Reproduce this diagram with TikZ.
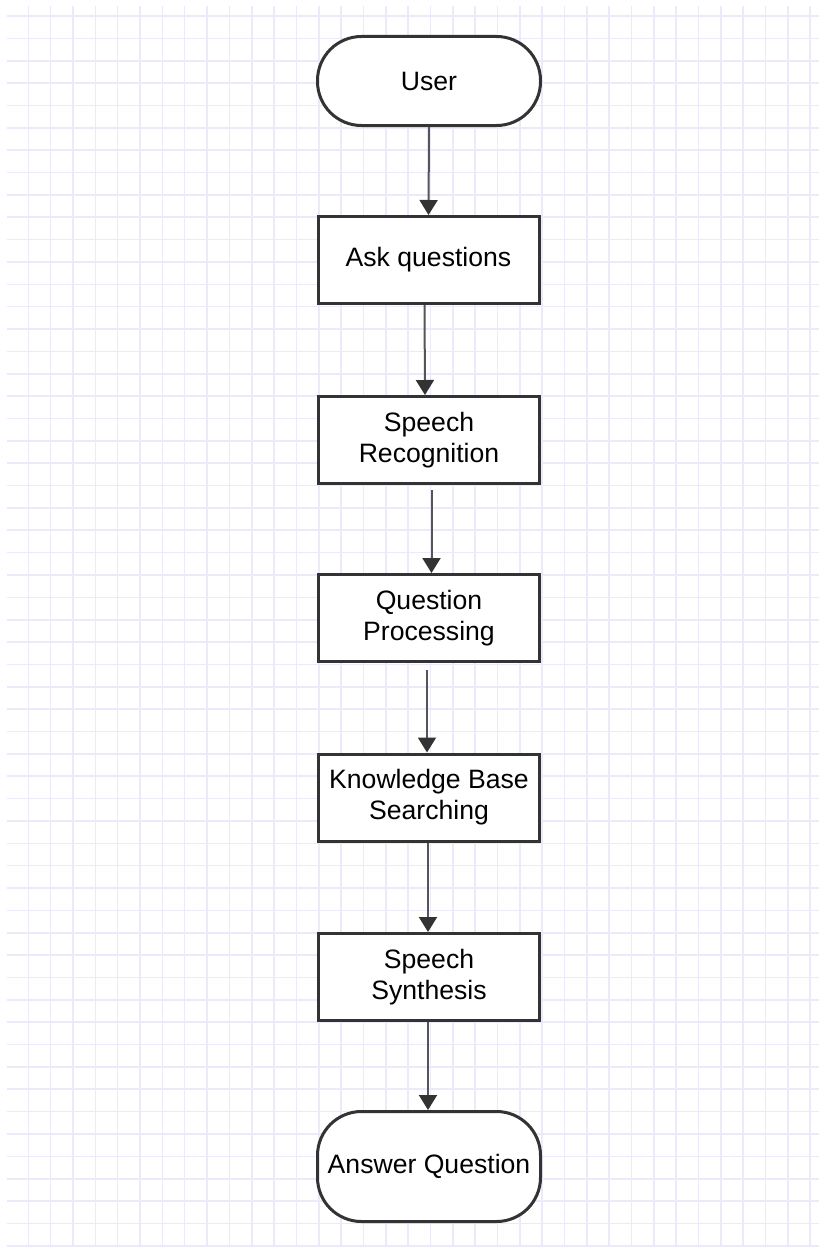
\documentclass[tikz,border=0pt]{standalone}
\usepackage{fontspec}
\setsansfont{Liberation Sans}
\usetikzlibrary{arrows.meta}
\definecolor{gridblue}{RGB}{234,234,250}
\definecolor{edgegray}{RGB}{51,51,51}
\definecolor{flowgray}{RGB}{85,85,85}
\begin{document}
\begin{tikzpicture}[
      x=1pt, y=-1pt,
      font=\sffamily\fontsize{26.6pt}{31pt}\selectfont,
      gridline/.style={gridblue, line width=1.6pt},
      stepbox/.style={draw=edgegray, line width=3pt, fill=white, minimum width=221pt, minimum height=87pt, align=center, inner sep=4pt},
      terminal/.style={stepbox, rounded corners=44pt, minimum width=223pt},
      flow/.style={draw=flowgray, line width=2pt, -{Triangle[length=15pt, width=18pt, color=edgegray]}}
    ]
    \useasboundingbox (0,0) rectangle (819,1247);
    \fill[white] (0,0) rectangle (819,1247);
    % grid paper
    \foreach \i in {0,...,35}
      \draw[gridline] (28.3+22.34*\i,6) -- (28.3+22.34*\i,1247);
    \foreach \j in {0,...,55}
      \draw[gridline] (7,16+22.36*\j) -- (819,16+22.36*\j);
    % flow steps
    \node[terminal, minimum height=89pt] (user) at (429,81) {User};
    \node[stepbox] (ask) at (428.5,260) {Ask questions};
    \node[stepbox] (recog) at (429,440) {Speech\\Recognition};
    \node[stepbox] (proc) at (429,618) {Question\\Processing};
    \node[stepbox] (search) at (429,797.5) {Knowledge Base\\Searching};
    \node[stepbox] (synth) at (429,977) {Speech\\Synthesis};
    \node[terminal, minimum height=110pt] (answer) at (429,1166.5) {Answer Question};
    % connectors
    \draw[flow] (user.south) -- (ask.north);
    \draw[flow] ([xshift=-4pt]ask.south) -- ([xshift=-4pt]recog.north);
    \draw[flow, shorten <=5pt] ([xshift=2.5pt]recog.south) -- ([xshift=2.5pt]proc.north);
    \draw[flow, shorten <=7pt] ([xshift=-2pt]proc.south) -- ([xshift=-2pt]search.north);
    \draw[flow] ([xshift=-1pt]search.south) -- ([xshift=-1pt]synth.north);
    \draw[flow] ([xshift=-1pt]synth.south) -- ([xshift=-1pt]answer.north);
  \end{tikzpicture}
\end{document}
